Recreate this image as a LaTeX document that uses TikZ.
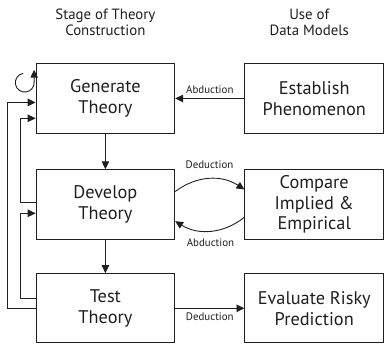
\documentclass[tikz,border=0pt]{standalone}
\usepackage{fontspec}
\setmainfont{PT Sans}
\usepackage{tikz}
\usetikzlibrary{positioning}
\usetikzlibrary{arrows.meta}
\colorlet{Ink}{black!88}

\tikzset{
  stagebox/.style={draw=Ink, line width=1pt, minimum width=140pt, minimum height=70pt,
    inner sep=0pt, align=center, text=Ink, font=\fontsize{18.5}{21}\selectfont},
  headtxt/.style={inner sep=0pt, align=center, text=Ink, font=\fontsize{15}{16}\selectfont},
  lbl/.style={inner sep=1pt, text=Ink, font=\fontsize{11}{12}\selectfont},
}

\begin{document}
\begin{tikzpicture}[>={Triangle[length=8pt,width=7.5pt]}, line width=0.9pt, draw=Ink]
        % boxes, left column is the stage, right column the data model
        \node[stagebox] (GenT) {Generate\\Theory};
        \node[stagebox, right=70pt of GenT] (EstP) {Establish\\Phenomenon};
        \node[stagebox, below=36pt of GenT] (DevT) {Develop\\Theory};
        \node[stagebox, right=70pt of DevT] (CmpIE) {Compare\\Implied \&\\Empirical};
        \node[stagebox, below=34pt of DevT] (TstT) {Test\\Theory};
        \node[stagebox, right=70pt of TstT] (EvlP) {Evaluate Risky\\Prediction};

        % column heads
        \node[headtxt, above=28pt of GenT] (HdStage) {Stage of Theory\\Construction};
        \node[headtxt, above=28pt of EstP, xshift=-5pt] (HdUse) {Use of\\Data Models};

        \useasboundingbox ([shift={(-36pt,64pt)}]GenT.north west) rectangle ++(384pt,-343pt);

        % edges
        \draw[->] (GenT) -- (DevT);
        \draw[->] (DevT) -- (TstT);
        \draw[->] (EstP) -- node[lbl, above=3pt] {Abduction} (GenT);
        \draw[->] ([yshift=13pt]DevT.east) to [bend left=35] node[lbl, above=9pt] {Deduction} ([yshift=15pt]CmpIE.west);
        \draw[->] ([yshift=-13pt]CmpIE.west) to [bend left=35] node[lbl, below=7pt] {Abduction} ([yshift=-17pt]DevT.east);
        \draw[->] (TstT) -- node[lbl, below=3pt] {Deduction} (EvlP);

        % feedback on the left
        \draw[->] (TstT.west) -- ++(-28pt,0) |- ([yshift=-4pt]GenT.west);
        \draw[->] ([yshift=2pt]DevT.west) -- ++(-15pt,0) |- ([yshift=-20pt]GenT.west);
        \draw[->] ([yshift=10pt]TstT.west) -- ++(-15pt,0) |- ([yshift=-9pt]DevT.west);
        \coordinate (LoopC) at ([shift={(-11pt,16pt)}]GenT.west);
        \draw[->] ([shift={(100:9.5pt)}]LoopC) arc[start angle=100, end angle=360, radius=9.5pt] -- ++(0,13pt);
\end{tikzpicture}
\end{document}
